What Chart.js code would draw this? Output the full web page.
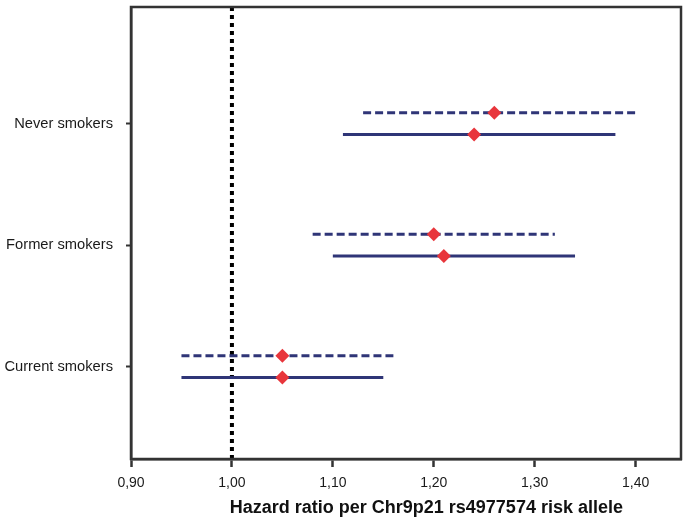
<!DOCTYPE html>
<html>
<head>
<meta charset="utf-8">
<script src="https://cdn.jsdelivr.net/npm/chart.js@4/dist/chart.umd.min.js"></script>
<style>
  html, body { margin: 0; padding: 0; background: #ffffff; }
  #wrap { width: 688px; height: 522px; position: relative; }
</style>
</head>
<body>
<div id="wrap"><canvas id="c" width="688" height="522"></canvas></div>
<script>
// ---- Data ----
const groups = ['Current smokers', 'Former smokers', 'Never smokers'];
const dashedLow  = [0.95, 1.08, 1.13];
const dashedEst  = [1.05, 1.20, 1.26];
const dashedHigh = [1.16, 1.32, 1.40];
const solidLow   = [0.95, 1.10, 1.11];
const solidEst   = [1.05, 1.21, 1.24];
const solidHigh  = [1.15, 1.34, 1.38];
const xTickValues = [0.90, 1.00, 1.10, 1.20, 1.30, 1.40];
const referenceValue = 1.00;
const axisTitle = 'Hazard ratio per Chr9p21 rs4977574 risk allele';

// ---- Styling ----
const NAVY = '#2f3577';
const RED = '#e8363c';
const FRAME = '#333333';
const ROW_OFFSET = 0.09;   // vertical separation of the two estimates in each row
const Y_MIN = 0.24, Y_MAX = 3.96;
const X_MIN = 0.90, X_MAX = 1.445;

const datasets = [];

// reference line
datasets.push({
  type: 'line',
  data: [{x: referenceValue, y: Y_MIN}, {x: referenceValue, y: Y_MAX}],
  borderColor: '#000000',
  borderWidth: 4,
  borderDash: [4, 4],
  pointRadius: 0,
  borderCapStyle: 'butt',
  order: 3
});

groups.forEach((g, i) => {
  const yPos = i + 1;
  datasets.push({
    type: 'line',
    data: [{x: dashedLow[i], y: yPos + ROW_OFFSET}, {x: dashedHigh[i], y: yPos + ROW_OFFSET}],
    borderColor: NAVY, borderWidth: 3, borderDash: [8, 4],
    pointRadius: 0, order: 2
  });
  datasets.push({
    type: 'line',
    data: [{x: solidLow[i], y: yPos - ROW_OFFSET}, {x: solidHigh[i], y: yPos - ROW_OFFSET}],
    borderColor: NAVY, borderWidth: 3,
    pointRadius: 0, order: 2
  });
});

datasets.push({
  type: 'scatter',
  data: groups.map((g, i) => ({x: dashedEst[i], y: i + 1 + ROW_OFFSET}))
    .concat(groups.map((g, i) => ({x: solidEst[i], y: i + 1 - ROW_OFFSET}))),
  pointStyle: 'rectRot',
  pointRadius: 7,
  backgroundColor: RED,
  borderColor: RED,
  borderWidth: 0,
  order: 1
});

const framePlugin = {
  id: 'frame',
  afterDatasetsDraw(chart) {
    const {ctx, chartArea: a} = chart;
    ctx.save();
    ctx.strokeStyle = FRAME;
    ctx.lineWidth = 2.5;
    ctx.strokeRect(a.left, a.top, a.right - a.left, a.bottom - a.top);
    ctx.restore();
  }
};

const titlePlugin = {
  id: 'xtitle',
  afterDraw(chart) {
    const {ctx, chartArea: a} = chart;
    ctx.save();
    ctx.font = 'bold 18px "Liberation Sans", Arial, sans-serif';
    ctx.fillStyle = '#111111';
    ctx.textAlign = 'center';
    ctx.textBaseline = 'middle';
    ctx.fillText(axisTitle, a.left + 0.537 * (a.right - a.left), 508);
    ctx.restore();
  }
};

new Chart(document.getElementById('c'), {
  data: { datasets },
  options: {
    responsive: false,
    animation: false,
    layout: { padding: { left: 0, top: 5, right: 3, bottom: 0 } },
    plugins: { legend: { display: false }, tooltip: { enabled: false } },
    scales: {
      x: {
        type: 'linear',
        min: X_MIN, max: X_MAX,
        afterBuildTicks: (s) => { s.ticks = xTickValues.map(v => ({value: v})); },
        afterFit: (s) => { s.height = 63; s.paddingLeft = 0; s.paddingRight = 0; },
        grid: { display: true, drawOnChartArea: false, drawTicks: true, tickLength: 8, tickWidth: 2.5, tickColor: FRAME },
        border: { display: true, color: FRAME, width: 2.5 },
        ticks: {
          padding: 8,
          color: '#1a1a1a',
          font: { family: '"Liberation Sans", Arial, sans-serif', size: 14 },
          callback: (v) => Number(v).toFixed(2).replace('.', ',')
        }
      },
      y: {
        type: 'linear',
        min: Y_MIN, max: Y_MAX,
        afterBuildTicks: (s) => { s.ticks = groups.map((g, i) => ({value: i + 1})); },
        afterFit: (s) => { s.width = 131; s.paddingTop = 0; s.paddingBottom = 0; },
        grid: { display: true, drawOnChartArea: false, drawTicks: true, tickLength: 5, tickWidth: 2, tickColor: FRAME },
        border: { display: true, color: FRAME, width: 2.5 },
        ticks: {
          padding: 13,
          color: '#1a1a1a',
          font: { family: '"Liberation Sans", Arial, sans-serif', size: 14.7 },
          callback: (v) => groups[Math.round(v) - 1] || ''
        }
      }
    }
  },
  plugins: [framePlugin, titlePlugin]
});
</script>
</body>
</html>
